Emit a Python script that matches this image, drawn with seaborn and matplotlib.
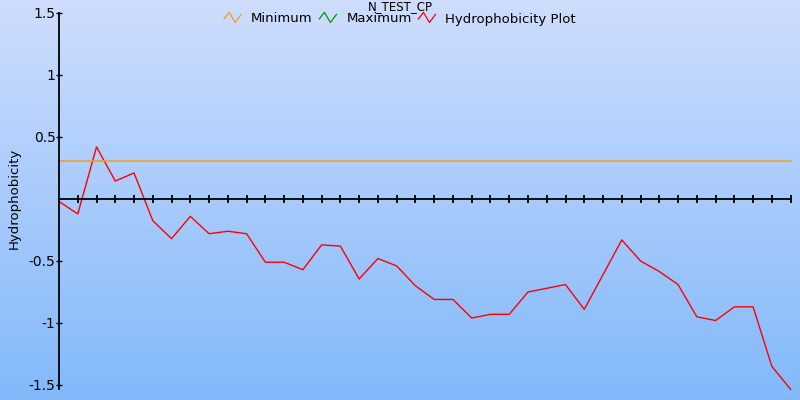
import numpy as np
import pandas as pd
import seaborn as sns
import matplotlib
matplotlib.use('Agg')
import matplotlib.pyplot as plt
from matplotlib.lines import Line2D
from matplotlib.legend_handler import HandlerBase

# data
position = list(range(40))
hydro = [-0.02, -0.12, 0.42, 0.145, 0.21, -0.175, -0.32, -0.14, -0.28, -0.26,
         -0.28, -0.51, -0.51, -0.57, -0.37, -0.38, -0.645, -0.48, -0.54, -0.70,
         -0.81, -0.81, -0.96, -0.93, -0.93, -0.75, -0.72, -0.69, -0.89, -0.61,
         -0.33, -0.50, -0.585, -0.69, -0.95, -0.98, -0.87, -0.87, -1.35, -1.535]
minimum = 0.306
ytick_vals = [1.5, 1, 0.5, -0.5, -1, -1.5]
ytick_labels = ['1.5', '1', '0.5', '-0.5', '-1', '-1.5']
series_names = ['Minimum', 'Maximum', 'Hydrophobicity Plot']
series_colors = ['#f0a020', '#009a00', '#ff0000']

df = pd.DataFrame({'pos': position, 'hydro': hydro})


class ZigZag(HandlerBase):
    # little "/\/" icon like the original legend
    def create_artists(self, legend, orig_handle, xdescent, ydescent,
                       width, height, fontsize, trans):
        xs = np.array([0.0, 0.3, 0.65, 1.0]) * width - xdescent
        ys = np.array([0.35, 1.0, 0.0, 0.8]) * height * 1.1 - ydescent
        ln = Line2D(xs, ys, color=orig_handle.get_color(), lw=0.9)
        ln.set_transform(trans)
        return [ln]


fig = plt.figure(figsize=(8, 4), dpi=100)

# gradient background
bg = fig.add_axes([0, 0, 1, 1], zorder=-5)
top = np.array([0.808, 0.867, 0.992])
bot = np.array([0.510, 0.725, 0.984])
t = np.linspace(0, 1, 256)[:, None, None]
grad = top * (1 - t) + bot * t
bg.imshow(np.repeat(grad, 2, axis=1), aspect='auto', extent=[0, 1, 0, 1])
bg.axis('off')

ax = fig.add_axes([59 / 800, 0, 1 - 59 / 800, 1 - 13 / 400])
ax.set_facecolor('none')

sns.lineplot(data=df, x='pos', y='hydro', ax=ax, color=series_colors[2], lw=1.0)
ax.plot([position[0], position[-1]], [minimum, minimum], color=series_colors[0], lw=1.1)

ax.set_xlim(0, 39.5)
ax.set_ylim(-1.621, 1.5)

for s in ['top', 'right']:
    ax.spines[s].set_visible(False)
ax.spines['bottom'].set_position(('data', 0))
ax.spines['bottom'].set_bounds(0, 39)
ax.spines['left'].set_bounds(-1.535, 1.5)
ax.spines['left'].set_linewidth(1.3)
ax.spines['bottom'].set_linewidth(1.3)

ax.set_xticks(position[1:])
ax.set_xticklabels([])
ax.tick_params(axis='x', direction='inout', length=6, width=1.3)
ax.set_yticks(ytick_vals)
ax.set_yticklabels(ytick_labels, fontsize=10)
ax.tick_params(axis='y', direction='inout', length=5, width=1, pad=0)
for lab in ax.get_yticklabels():
    lab.set_clip_on(False)

ax.set_xlabel('')
ax.set_ylabel('Hydrophobicity', fontsize=9.5)
ax.yaxis.set_label_coords(-0.0513, 0.52)

handles = [Line2D([], [], color=c) for c in series_colors]
fig.legend(handles, series_names, loc='center', bbox_to_anchor=(0.5, 1 - 19 / 400),
           ncol=3, frameon=False, fontsize=9.5, handlelength=1.3, handletextpad=0.75,
           columnspacing=0.5, handler_map={Line2D: ZigZag()})

fig.text(0.5, 1.0, 'N_TEST_CP', ha='center', va='top', fontsize=8.5)

fig.savefig('out.png', dpi=100)
